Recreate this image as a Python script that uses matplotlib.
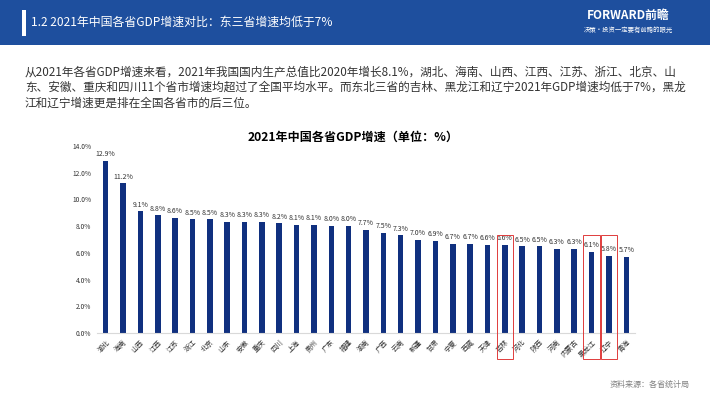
import matplotlib.pyplot as plt
from matplotlib.patches import Rectangle
import matplotlib.transforms as mtransforms

plt.rcParams['font.family'] = ['Noto Sans CJK SC', 'DejaVu Sans']

# data
provinces = ['湖北', '海南', '山西', '江西', '江苏', '浙江', '北京', '山东', '安徽', '重庆',
             '四川', '上海', '贵州', '广东', '福建', '湖南', '广西', '云南', '新疆', '甘肃',
             '宁夏', '西藏', '天津', '吉林', '河北', '陕西', '河南', '内蒙古', '黑龙江', '辽宁', '青海']
growth = [12.9, 11.2, 9.1, 8.8, 8.6, 8.5, 8.5, 8.3, 8.3, 8.3,
          8.2, 8.1, 8.1, 8.0, 8.0, 7.7, 7.5, 7.3, 7.0, 6.9,
          6.7, 6.7, 6.6, 6.6, 6.5, 6.5, 6.3, 6.3, 6.1, 5.8, 5.7]
yticks = [0, 2, 4, 6, 8, 10, 12, 14]
boxed = ['吉林', '黑龙江', '辽宁']

W, H = 710, 399
fig = plt.figure(figsize=(W / 100, H / 100), dpi=100)
fig.patch.set_facecolor('white')

# header band
fig.patches.append(Rectangle((0, 1 - 45 / H), 1, 45 / H, transform=fig.transFigure,
                             facecolor='#1e4f9e', edgecolor='none', zorder=0))
fig.patches.append(Rectangle((22 / W, 1 - 36 / H), 4 / W, 26 / H, transform=fig.transFigure,
                             facecolor='white', edgecolor='none', zorder=1))
fig.text(31 / W, 1 - 22 / H, '1.2 2021年中国各省GDP增速对比：东三省增速均低于7%',
         color='white', fontsize=8.6, va='center', ha='left')
fig.text(628 / W, 1 - 15 / H, 'FORWARD前瞻', color='white', fontsize=8.5,
         fontweight='bold', va='center', ha='center')
fig.text(628 / W, 1 - 30 / H, '决策·投资一定要有前瞻的眼光', color='white', fontsize=4.6,
         va='center', ha='center')

# paragraph
para = ['从2021年各省GDP增速来看，2021年我国国内生产总值比2020年增长8.1%，湖北、海南、山西、江西、江苏、浙江、北京、山',
        '东、安徽、重庆和四川11个省市增速均超过了全国平均水平。而东北三省的吉林、黑龙江和辽宁2021年GDP增速均低于7%，黑龙',
        '江和辽宁增速更是排在全国各省市的后三位。']
for i, line in enumerate(para):
    fig.text(25 / W, 1 - (72 + i * 15.5) / H, line, color='#333333', fontsize=8.4,
             va='center', ha='left')

fig.text(353 / W, 1 - 137 / H, '2021年中国各省GDP增速（单位：%）', color='black',
         fontsize=8.7, fontweight='bold', va='center', ha='center')

ax = fig.add_axes([97 / W, (H - 333) / H, 538 / W, 187 / H])
x = range(len(provinces))
ax.bar(x, growth, width=0.32, color='#10307f', zorder=2)
for xi, v in zip(x, growth):
    ax.text(xi, v + 0.2, f'{v:.1f}%', ha='center', va='bottom', fontsize=5, color='#333333')

ax.set_xlim(-0.5, len(provinces) - 0.5)
ax.set_ylim(0, 14)
ax.set_yticks(yticks)
ax.set_yticklabels([f'{t:.1f}%' for t in yticks], fontsize=4.8, color='#333333')
ax.set_xticks(list(x))
ax.set_xticklabels(provinces, rotation=45, ha='right', rotation_mode='anchor',
                   fontsize=5, color='#333333')
ax.tick_params(axis='both', length=0, pad=4)
for s in ['top', 'right', 'left']:
    ax.spines[s].set_visible(False)
ax.spines['bottom'].set_color('#d9d9d9')
ax.spines['bottom'].set_linewidth(0.8)

# red boxes around the north-east provinces
trans = mtransforms.blended_transform_factory(ax.transData, fig.transFigure)
for name in boxed:
    i = provinces.index(name)
    y0 = 1 - 359 / H
    ax.add_patch(Rectangle((i - 0.48, y0), 0.96, 124 / H, transform=trans, fill=False,
                           edgecolor='#e03c3c', linewidth=0.7, clip_on=False, zorder=3))

fig.text(650 / W, 1 - 384 / H, '资料来源：各省统计局', color='#808080', fontsize=5.8,
         va='center', ha='center')

fig.savefig('out.png', dpi=100)
